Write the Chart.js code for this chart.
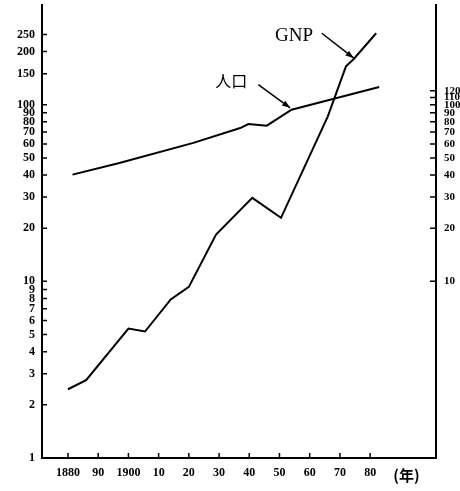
<!DOCTYPE html>
<html lang="ja">
<head>
<meta charset="UTF-8">
<title>GNPと人口</title>
<script src="https://cdn.jsdelivr.net/npm/chart.js"></script>
<style>
  body { margin: 0; background: #fff; }
  #wrap { width: 460px; height: 491px; }
</style>
</head>
<body>
<div id="wrap"><canvas id="chart" width="460" height="491"></canvas></div>
<script>
// GNP, left axis
const gnpYears  = [1880, 1886, 1900, 1905.5, 1914, 1920, 1929, 1941, 1950.5, 1966, 1972, 1974.5, 1982];
const gnpValues = [2.45, 2.76, 5.4, 5.2, 7.9, 9.3, 18.4, 29.7, 22.9, 86, 165, 181, 254];
// 人口, right axis
const popYears  = [1881.5, 1897, 1921.5, 1937, 1939.7, 1945.8, 1954, 1968, 1983];
const popValues = [40.2, 46.8, 60.8, 73.8, 77.8, 76.1, 93.7, 108, 126];

const xTickYears  = [1880, 1890, 1900, 1910, 1920, 1930, 1940, 1950, 1960, 1970, 1980];
const xTickLabels = ['1880', '90', '1900', '10', '20', '30', '40', '50', '60', '70', '80'];
const unitYear = 1992;
const unitLabel = '(年)';
const leftTicks  = [1, 2, 3, 4, 5, 6, 7, 8, 9, 10, 20, 30, 40, 50, 60, 70, 80, 90, 100, 150, 200, 250];
const rightTicks = [10, 20, 30, 40, 50, 60, 70, 80, 90, 100, 110, 120];

const serif = '"Liberation Serif", serif';

// labels with arrows, in data units
const notes = [
  { text: 'GNP', font: '19px "Liberation Serif"', axis: 'y',  at: [1948.5, 244], from: [1964, 254], to: [1974.5, 184] },
  { text: '人口', font: '16px "Noto Sans CJK JP"', axis: 'y2', at: [1928.7, 136], from: [1943, 130], to: [1953.5, 96] }
];

// ticks drawn inward, plus the labels
const extras = {
  id: 'extras',
  afterDatasetsDraw(chart) {
    const { ctx, chartArea: a, scales } = chart;
    const { x, y, y2 } = scales;
    ctx.save();
    ctx.strokeStyle = '#000';
    ctx.lineWidth = 1.5;
    ctx.beginPath();
    leftTicks.forEach(v => { const py = y.getPixelForValue(v); ctx.moveTo(a.left, py); ctx.lineTo(a.left + 5, py); });
    rightTicks.forEach(v => { const py = y2.getPixelForValue(v); ctx.moveTo(a.right, py); ctx.lineTo(a.right - 6, py); });
    xTickYears.forEach(v => { const px = x.getPixelForValue(v); ctx.moveTo(px, a.bottom); ctx.lineTo(px, a.bottom - 5); });
    ctx.stroke();

    ctx.fillStyle = '#000';
    ctx.textBaseline = 'middle';
    ctx.textAlign = 'left';
    notes.forEach(n => {
      const ys = scales[n.axis];
      ctx.font = n.font;
      ctx.fillText(n.text, x.getPixelForValue(n.at[0]), ys.getPixelForValue(n.at[1]));
      const x0 = x.getPixelForValue(n.from[0]), y0 = ys.getPixelForValue(n.from[1]);
      const x1 = x.getPixelForValue(n.to[0]), y1 = ys.getPixelForValue(n.to[1]);
      ctx.lineWidth = 1.5;
      ctx.beginPath();
      ctx.moveTo(x0, y0);
      ctx.lineTo(x1, y1);
      ctx.stroke();
      const ang = Math.atan2(y1 - y0, x1 - x0);
      ctx.beginPath();
      ctx.moveTo(x1, y1);
      ctx.lineTo(x1 - 8 * Math.cos(ang) + 3 * Math.sin(ang), y1 - 8 * Math.sin(ang) - 3 * Math.cos(ang));
      ctx.lineTo(x1 - 8 * Math.cos(ang) - 3 * Math.sin(ang), y1 - 8 * Math.sin(ang) + 3 * Math.cos(ang));
      ctx.closePath();
      ctx.fill();
    });
    ctx.restore();
  }
};

const ctx = document.getElementById('chart').getContext('2d');
new Chart(ctx, {
  type: 'line',
  data: {
    datasets: [
      {
        label: 'GNP',
        data: gnpYears.map((yr, i) => ({ x: yr, y: gnpValues[i] })),
        yAxisID: 'y',
        borderColor: '#000',
        borderWidth: 2,
        pointRadius: 0,
        tension: 0
      },
      {
        label: '人口',
        data: popYears.map((yr, i) => ({ x: yr, y: popValues[i] })),
        yAxisID: 'y2',
        borderColor: '#000',
        borderWidth: 2,
        pointRadius: 0,
        tension: 0
      }
    ]
  },
  options: {
    responsive: false,
    animation: false,
    layout: { padding: { top: 5, left: 0, right: 0, bottom: 0 } },
    plugins: { legend: { display: false }, tooltip: { enabled: false } },
    scales: {
      x: {
        type: 'linear',
        min: 1871.4,
        max: 2001.8,
        grid: { display: false, drawTicks: false },
        border: { display: true, color: '#000', width: 2 },
        afterBuildTicks(s) { s.ticks = xTickYears.concat([unitYear]).map(v => ({ value: v })); },
        afterFit(s) { s.height = 33; s.paddingLeft = 0; s.paddingRight = 0; },
        ticks: {
          autoSkip: false,
          maxRotation: 0,
          padding: 8,
          color: '#000',
          font: c => (c.tick && c.tick.value === unitYear)
            ? { family: '"Noto Sans CJK JP", sans-serif', size: 15, weight: 'bold' }
            : { family: serif, size: 12, weight: 'bold' },
          callback(v) {
            if (v === unitYear) return unitLabel;
            const i = xTickYears.indexOf(v);
            return i >= 0 ? xTickLabels[i] : '';
          }
        }
      },
      y: {
        type: 'logarithmic',
        position: 'left',
        min: 1,
        max: 367,
        grid: { display: false, drawTicks: false },
        border: { display: true, color: '#000', width: 2 },
        afterBuildTicks(s) { s.ticks = leftTicks.map(v => ({ value: v })); },
        afterFit(s) { s.width = 42; s.paddingTop = 0; s.paddingBottom = 0; },
        ticks: { autoSkip: false, padding: 7, color: '#000', font: { family: serif, size: 12, weight: 'bold' }, callback: v => String(v) }
      },
      y2: {
        type: 'logarithmic',
        position: 'right',
        min: 1,
        max: 367,
        grid: { display: false, drawTicks: false },
        border: { display: true, color: '#000', width: 2 },
        afterBuildTicks(s) { s.ticks = rightTicks.map(v => ({ value: v })); },
        afterFit(s) { s.width = 24; s.paddingTop = 0; s.paddingBottom = 0; },
        ticks: { autoSkip: false, padding: 8, color: '#000', font: { family: serif, size: 11, weight: 'bold' }, callback: v => String(v) }
      }
    }
  },
  plugins: [extras]
});
</script>
</body>
</html>
